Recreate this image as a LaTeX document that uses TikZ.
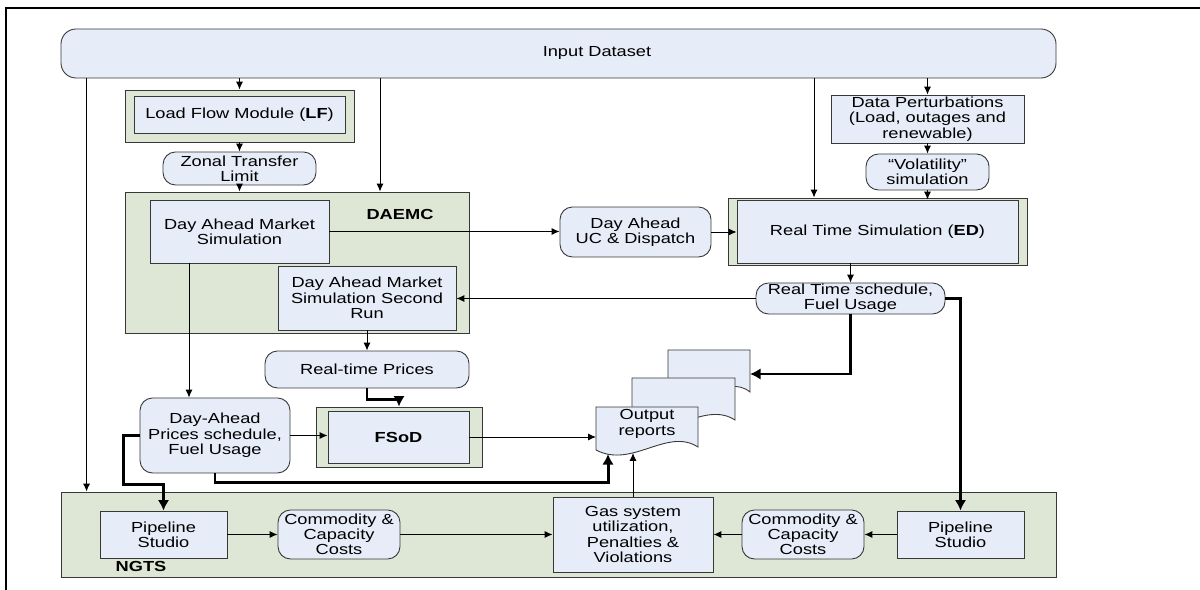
\documentclass[tikz,border=0pt]{standalone}
\usepackage{fontspec}
\setmainfont{Liberation Sans}[FakeStretch=1.25]
\usetikzlibrary{arrows.meta}
\definecolor{boxfill}{RGB}{230,237,248}
\definecolor{grpfill}{RGB}{222,230,213}
\definecolor{edgecol}{RGB}{55,55,55}

\begin{document}
\begin{tikzpicture}[x=0.02cm, y=-0.02cm,
  font=\fontsize{8.3}{8.7}\selectfont,
  sz/.style 2 args={minimum width=#1*0.02cm, minimum height=#2*0.02cm},
  box/.style={draw=edgecol, fill=boxfill, line width=0.5pt, inner sep=0pt, align=center},
  rbox/.style={box, rounded corners=0.25cm},
  grp/.style={draw=edgecol, fill=grpfill, line width=0.5pt, inner sep=0pt},
  arr/.style={-{Latex[length=4.5pt,width=4pt]}, line width=0.55pt},
  thk/.style={-{Latex[length=6pt,width=6.5pt]}, line width=1.7pt}]
\useasboundingbox (0,0) rectangle (1200,590);
\draw[line width=1.1pt] (6,590) -- (6,8) -- (1200,8);

\node[rbox, sz={995}{49}, rounded corners=0.3cm] (inp) at (558.5,53.5) {};
\node (inplbl) at (597,53) {Input Dataset};

\node[grp, sz={229}{52}] (lfo) at (239.5,116) {};
\node[box, sz={211}{37}] (lf) at (239.5,114.5) {Load Flow Module (\textbf{LF})};
\node[rbox, sz={153}{33}] (ztl) at (239.5,168.5) {Zonal Transfer\\Limit};

\node[grp, sz={344}{141}] (dae) at (297,262.5) {};
\node[font=\fontsize{8.3}{8.7}\selectfont\bfseries] (daelbl) at (400,214) {DAEMC};
\node[box, sz={179}{63}] (dams) at (239.5,231.5) {Day Ahead Market\\Simulation};
\node[box, sz={178}{64}] (dams2) at (367,298) {Day Ahead Market\\Simulation Second\\Run};

\node[rbox, sz={151}{50}] (ucd) at (635.5,232) {Day Ahead\\UC \& Dispatch};
\node[grp, sz={299}{67}] (rto) at (877.5,231.5) {};
\node[box, sz={281}{63}] (rt) at (877.5,231.5) {Real Time Simulation (\textbf{ED})};
\node[box, sz={193}{48}] (dp) at (927.5,119) {Data Perturbations\\(Load, outages and\\renewable)};
\node[rbox, sz={123}{36}] (vol) at (927.5,172) {``Volatility''\\simulation};
\node[rbox, sz={189}{31}] (rts) at (850.5,298.5) {Real Time schedule,\\Fuel Usage};

\node[rbox, sz={204}{37}] (rtp) at (367,369.5) {Real-time Prices};
\node[rbox, sz={150}{75}] (dap) at (215,435.5) {Day-Ahead\\Prices schedule,\\Fuel Usage};
\node[grp, sz={166}{60}] (fso) at (399,437) {};
\node[box, sz={141}{52}, font=\fontsize{8.3}{8.7}\selectfont\bfseries] (fsod) at (398.5,437) {FSoD};

\filldraw[draw=edgecol, fill=boxfill, line width=0.5pt] (668,394) -- (668,350) -- (750,350) -- (750,392) .. controls (725,372) and (697,414) .. (668,394) -- cycle;
\filldraw[draw=edgecol, fill=boxfill, line width=0.5pt] (632,422) -- (632,378) -- (735,378) -- (735,420) .. controls (704,400) and (668,442) .. (632,422) -- cycle;
\filldraw[draw=edgecol, fill=boxfill, line width=0.5pt] (596,450) -- (596,407) -- (698,407) -- (698,447) .. controls (667,427) and (632,469) .. (596,450) -- cycle;
\node[align=center] (rep) at (647,424) {Output\\reports};
\coordinate (repin) at (596,437);
\coordinate (repdap) at (608,454);
\coordinate (repgas) at (633,453);
\coordinate (repback) at (750,374);

\node[grp, sz={995}{85}] (ngts) at (558.5,534.5) {};
\node[font=\fontsize{8.3}{8.7}\selectfont\bfseries] (ngtslbl) at (141,566) {NGTS};
\node[box, sz={127}{47}] (psl) at (163.5,534.5) {Pipeline\\Studio};
\node[rbox, sz={122}{49}] (cml) at (339,534.5) {Commodity \&\\Capacity\\Costs};
\node[box, sz={160}{75}] (gas) at (633,534.5) {Gas system\\utilization,\\Penalties \&\\Violations};
\node[rbox, sz={122}{49}] (cmr) at (803,534.5) {Commodity \&\\Capacity\\Costs};
\node[box, sz={127}{47}] (psr) at (960.5,534.5) {Pipeline\\Studio};

\draw[arr] ([xshift=0.52cm]inp.south west) -- ([xshift=0.52cm]ngts.north west);
\draw[arr] (inp.south -| lfo.north) -- (lfo.north);
\draw[arr] ([xshift=1.66cm]dae.north |- inp.south) -- ([xshift=1.66cm]dae.north);
\draw[arr] ([xshift=-1.27cm]rto.north |- inp.south) -- ([xshift=-1.27cm]rto.north);
\draw[arr] (inp.south -| dp.north) -- (dp.north);
\draw[arr] (lfo.south) -- (ztl.north);
\draw[arr] (ztl.south) -- (ztl.south |- dae.north);
\draw[arr] (dams.east) -- (dams.east -| ucd.west);
\draw[arr] (ucd.east) -- (ucd.east -| rt.west);
\draw[arr] (dp.south) -- (vol.north);
\draw[arr] (vol.south) -- (vol.south |- rt.north);
\draw[arr] (rts.north |- rt.south) -- (rts.north);
\draw[arr] (rts.west) -- (rts.west -| dams2.east);
\draw[arr] (dams2.south) -- (rtp.north);
\draw[arr] ([xshift=-0.52cm]dap.north |- dams.south) -- ([xshift=-0.52cm]dap.north);
\draw[arr] (dap.east) -- (dap.east -| fsod.west);
\draw[arr] (fsod.east) -- (repin);
\draw[arr] (gas.north) -- (repgas);
\draw[arr] (psl.east) -- (cml.west);
\draw[arr] (cml.east) -- (gas.west);
\draw[arr] (psr.west) -- (cmr.east);
\draw[arr] (cmr.west) -- (gas.east);

\draw[thk] (rts.east) -| (psr.north);
\draw[thk] (rts.south) |- (repback);
\draw[thk] (rtp.south) -- ++(0,11) -| (fso.north);
\draw[thk] (dap.west) -- ++(-16,0) -- ++(0,49) -| (psl.north);
\draw[thk] (dap.south) -- ++(0,9) -| (repdap);
\end{tikzpicture}
\end{document}
